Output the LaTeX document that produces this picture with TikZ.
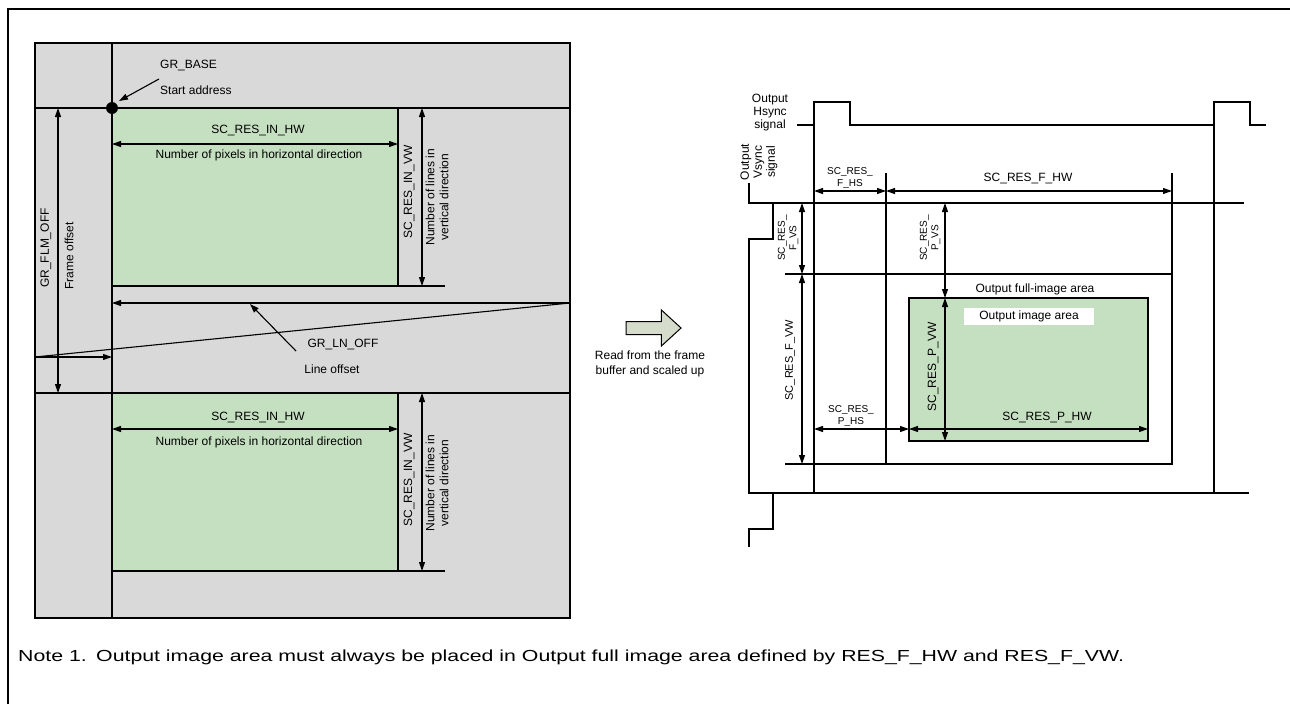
\documentclass[tikz,border=0pt]{standalone}
\usepackage{fontspec}
\setmainfont{Liberation Sans}
\usetikzlibrary{arrows.meta,positioning,shapes.arrows}
\definecolor{bufgray}{RGB}{217,217,217}
\definecolor{imggreen}{RGB}{197,224,192}
\definecolor{arrowfill}{RGB}{214,220,203}

\begin{document}
\begin{tikzpicture}[x=1pt, y=-1pt,
  >={Triangle[length=9pt,width=6pt]},
  area/.style={draw, line width=1.6pt, inner sep=0pt, outer sep=0pt, anchor=north west},
  ln/.style={line width=1.1pt},
  bold/.style={line width=1.6pt},
  dim/.style={<->, line width=1.1pt},
  lbl/.style={font=\fontsize{12}{14}\selectfont, inner sep=1pt},
  slbl/.style={font=\fontsize{10}{11.5}\selectfont, align=center, inner sep=1pt},
  note/.style={anchor=base west, inner sep=0pt, font=\fontsize{16}{19}\selectfont},
]
\useasboundingbox (0,0) rectangle (1290,704);
\draw[line width=2pt] (8,704) -- (8,9) -- (1290,9);

% --- frame buffer (left) ---
\node[area, fill=bufgray, minimum width=535pt, minimum height=575pt] (buf) at (35,43) {};
\draw[ln] (112,43) -- (112,618);
\draw[bold] (35,108) -- (570,108);
\draw[ln] (35,393) -- (570,393);
\node[area, fill=imggreen, minimum width=286pt, minimum height=178pt] (img1) at (112,108) {};
\node[area, fill=imggreen, minimum width=286pt, minimum height=178pt] (img2) at (112,393) {};
\draw[ln] (img1.south east) -- ++(47,0);
\draw[ln] (img2.south east) -- ++(47,0);

% start address
\fill (img1.north west) circle (6pt);
\node[lbl, anchor=west] (base) at (159,66) {GR\_BASE};
\node[lbl, anchor=west] (start) at (159,90) {Start address};
\draw[ln, ->] (159,79) -- (119,101);

% first input image
\draw[dim] ([yshift=-36pt]img1.north west) -- ([yshift=-36pt]img1.north east);
\node[lbl] (hw1) at (258,131) {SC\_RES\_IN\_HW};
\node[lbl] (px1) at (259,155) {Number of pixels in horizontal direction};
\draw[dim] (422,108) -- (422,286);
\node[lbl, rotate=90] (vw1) at (409,192) {SC\_RES\_IN\_VW};
\node[lbl, rotate=90, align=center] (ln1) at (437,197) {Number of lines in\\vertical direction};

% frame offset
\draw[dim] (58,108) -- (58,393);
\node[lbl, rotate=90] (flm) at (46,248) {GR\_FLM\_OFF};
\node[lbl, rotate=90] (flmtxt) at (69,256) {Frame offset};

% line offset
\draw[ln, ->] (570,303) -- (112,303);
\draw[ln] (570,303) -- (35,357);
\draw[ln, ->] (35,357) -- (112,357);
\draw[ln, ->] (296,351) -- (250,304);
\node[lbl] (lnoff) at (343,344) {GR\_LN\_OFF};
\node[lbl] (lnofftxt) at (332,369) {Line offset};

% second input image
\draw[dim] ([yshift=-36pt]img2.north west) -- ([yshift=-36pt]img2.north east);
\node[lbl] (hw2) at (258,417) {SC\_RES\_IN\_HW};
\node[lbl] (px2) at (259,442) {Number of pixels in horizontal direction};
\draw[dim] (422,393) -- (422,571);
\node[lbl, rotate=90] (vw2) at (409,480) {SC\_RES\_IN\_VW};
\node[lbl, rotate=90, align=center] (ln2) at (437,483) {Number of lines in\\vertical direction};

% --- read arrow ---
\node[single arrow, draw, line width=1pt, fill=arrowfill, inner sep=6pt,
  minimum height=55pt, single arrow head extend=11.5pt, single arrow tip angle=85] (readarr) at (650,328) {};
\node[font=\fontsize{12}{15}\selectfont, align=center] (readtxt) at (650,363.5) {Read from the frame\\buffer and scaled up};

% --- output (right) ---
\node[lbl, align=center, font=\fontsize{12}{13}\selectfont] (hsync) at (770,113) {Output\\Hsync\\signal};
\node[lbl, align=center, font=\fontsize{12}{13}\selectfont, rotate=90] (vsync) at (759,162) {Output\\Vsync\\signal};
\draw[bold] (797,125) -- (814,125) -- (814,102) -- (850,102) -- (850,125) -- (1214,125)
  -- (1214,102) -- (1250,102) -- (1250,125) -- (1266,125);
\draw[bold] (749,183) -- (749,203) -- (773,203) -- (773,239) -- (749,239) -- (749,493)
  -- (773,493) -- (773,529) -- (749,529) -- (749,547);
\draw[bold] (814,125) -- (814,493);
\draw[bold] (1214,125) -- (1214,493);
\draw[bold] (773,203) -- (1244,203);
\draw[bold] (773,493) -- (1249,493);

% full-image area
\node[area, minimum width=286pt, minimum height=190pt] (full) at (886,274) {};
\draw[ln] (785,274) -- (full.north west);
\draw[ln] (785,464) -- (full.south west);
\draw[ln] (886,173) -- (full.north west);
\draw[ln] (1172,173) -- (full.north east);
\node[lbl] (fulltxt) at (1035,289) {Output full-image area};

% output image area
\node[area, fill=imggreen, minimum width=239pt, minimum height=143pt] (outimg) at (909,298) {};
\node[lbl, fill=white, minimum width=130pt, minimum height=17pt] (outtxt) at (1029,316) {Output image area};

% dimensions
\draw[dim] (814,191) -- (886,191);
\node[slbl] (fhs) at (850,178) {SC\_RES\_\\F\_HS};
\draw[dim] (886,191) -- (1172,191);
\node[lbl] (fhw) at (1028,179) {SC\_RES\_F\_HW};
\draw[dim] (802,203) -- (802,274);
\node[slbl, rotate=90] (fvs) at (788,238) {SC\_RES\_\\F\_VS};
\draw[dim] (802,274) -- (802,464);
\node[lbl, font=\fontsize{11}{13}\selectfont, rotate=90] (fvw) at (790,360) {SC\_RES\_F\_VW};
\draw[dim] (945,203) -- (945,298);
\node[slbl, rotate=90] (pvs) at (930,238) {SC\_RES\_\\P\_VS};
\draw[dim] (945,298) -- (945,441);
\node[lbl, rotate=90] (pvw) at (933,367) {SC\_RES\_P\_VW};
\draw[dim] (814,429) -- (909,429);
\node[slbl] (phs) at (851,416) {SC\_RES\_\\P\_HS};
\draw[dim] (909,429) -- (1148,429);
\node[lbl] (phw) at (1047,417) {SC\_RES\_P\_HW};

% --- note ---
\node[note] (notenum) at (18,661) {\scalebox{1.33}[1]{Note 1.}};
\node[note] (notetxt) at (96,661) {\scalebox{1.33}[1]{Output image area must always be placed in Output full image area defined by RES\_F\_HW and RES\_F\_VW.}};
\end{tikzpicture}
\end{document}
